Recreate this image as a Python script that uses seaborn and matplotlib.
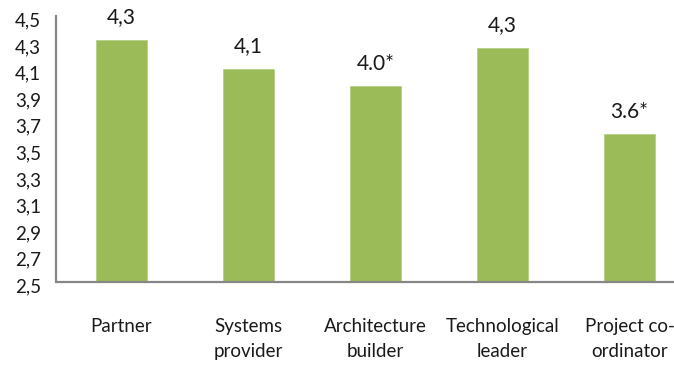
import matplotlib
matplotlib.use("Agg")
import matplotlib.pyplot as plt
import matplotlib.transforms as mtransforms
import pandas as pd
import seaborn as sns

# Mean rating per role
roles = ["Partner", "Systems\nprovider", "Architecture\nbuilder",
         "Technological\nleader", "Project co-\nordinator"]
scores = [4.32, 4.10, 3.97, 4.26, 3.61]
# roles whose difference is marked with an asterisk
starred = [False, False, True, False, True]

y_ticks = [2.5, 2.7, 2.9, 3.1, 3.3, 3.5, 3.7, 3.9, 4.1, 4.3, 4.5]

sns.set_style("white")
plt.rcParams["font.family"] = ["Lato", "DejaVu Sans"]

W, H = 674, 365
fig = plt.figure(figsize=(W / 100, H / 100), dpi=100)
ax_left, ax_right = 56.5, 674.0
ax_top, ax_bottom = 16.0, 281.7
ax = fig.add_axes([ax_left / W, 1 - ax_bottom / H,
                   (ax_right - ax_left) / W, (ax_bottom - ax_top) / H])

df = pd.DataFrame({"role": roles, "score": scores})
sns.barplot(data=df, x="role", y="score", color="#9BBB59", saturation=1,
            width=0.406, edgecolor="#B5CF86", linewidth=0.6, ax=ax)

ax.set_ylim(2.5, 4.5)
ax.set_xlim(-0.512, 4.35)
ax.set_yticks(y_ticks)
ax.set_yticklabels([f"{t:.1f}".replace(".", ",") for t in y_ticks])
ax.set_xticks(range(len(roles)))
ax.set_xticklabels(roles, linespacing=1.6)
ax.set_xlabel("")
ax.set_ylabel("")

for spine in ["top", "right"]:
    ax.spines[spine].set_visible(False)
for spine in ["left", "bottom"]:
    ax.spines[spine].set_color("#878787")
    ax.spines[spine].set_linewidth(1.6)

ax.tick_params(axis="y", length=0, pad=11, labelsize=13.5, labelcolor="#1a1a1a")
ax.tick_params(axis="x", length=0, pad=26, labelsize=13.5, labelcolor="#1a1a1a")

# nudge the value-axis labels slightly below their gridline positions
shift = mtransforms.ScaledTranslation(0, -2.5 / 72, fig.dpi_scale_trans)
for lab in ax.get_yticklabels():
    lab.set_transform(lab.get_transform() + shift)

for i, (v, s) in enumerate(zip(scores, starred)):
    text = f"{v:.1f}*" if s else f"{v:.1f}".replace(".", ",")
    ax.annotate(text, (i, v), xytext=(0, 12), textcoords="offset points",
                ha="center", va="baseline", fontsize=15, color="#1a1a1a")

fig.savefig("out.png", dpi=100)
